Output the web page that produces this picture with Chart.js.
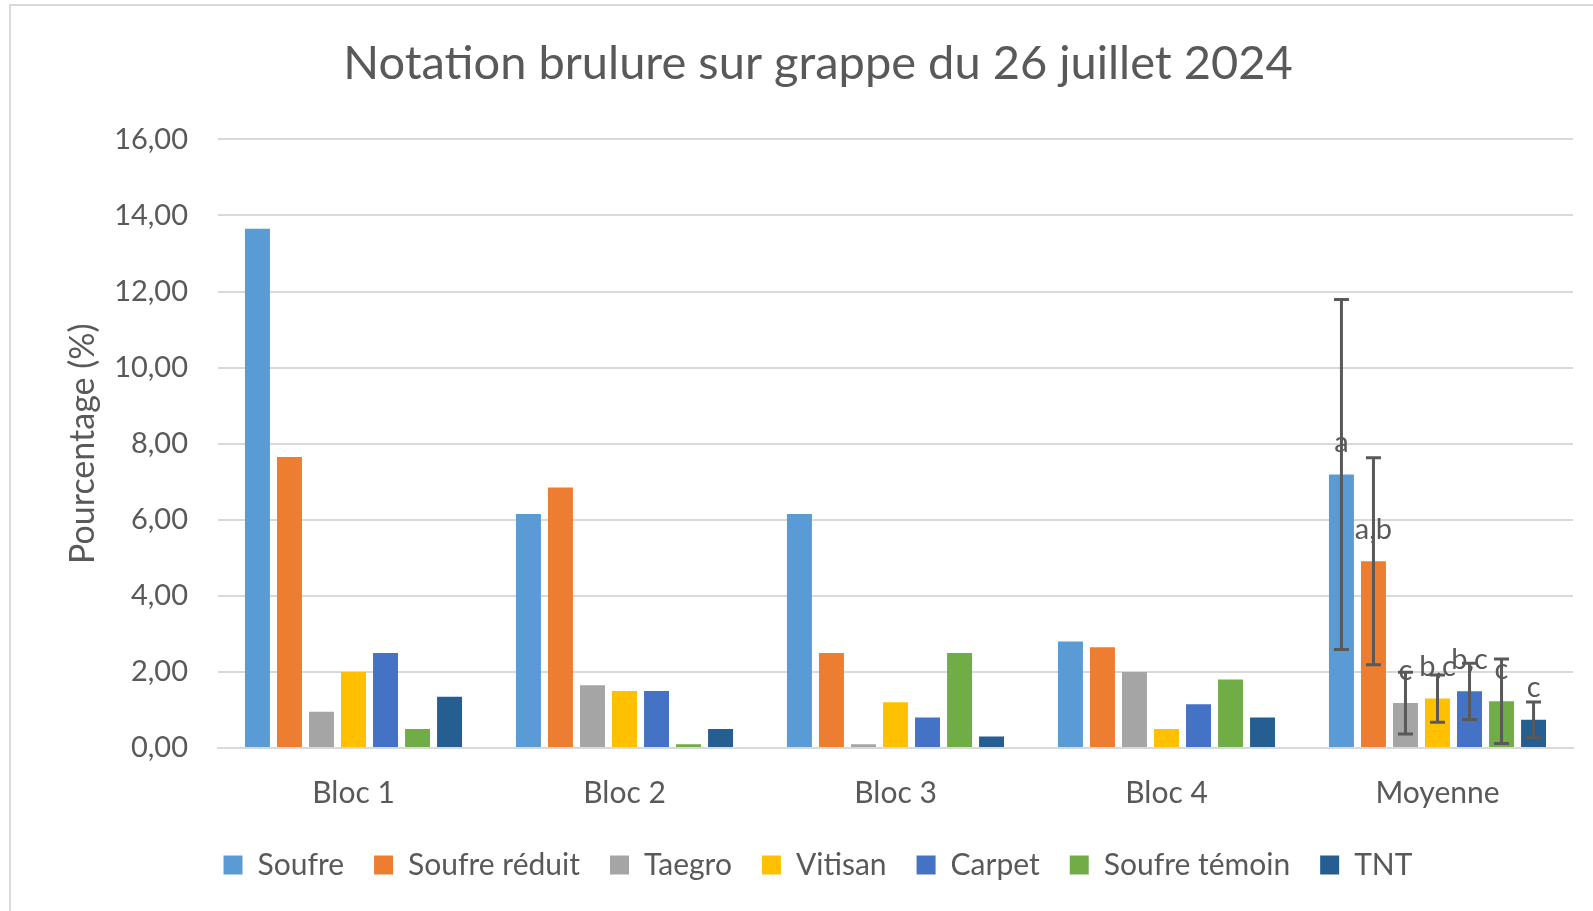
<!DOCTYPE html>
<html>
<head>
<meta charset="utf-8">
<script src="https://cdn.jsdelivr.net/npm/chart.js@4/dist/chart.umd.min.js"></script>
<style>
html,body{margin:0;padding:0;background:#fff;overflow:hidden}
#wrap{position:absolute;left:0;top:0;width:1593px;height:911px}
</style>
</head>
<body>
<div id="wrap"><canvas id="c"></canvas></div>
<script>
// ---- Data ----
const categories = ['Bloc 1', 'Bloc 2', 'Bloc 3', 'Bloc 4', 'Moyenne'];
const seriesNames = ['Soufre', 'Soufre réduit', 'Taegro', 'Vitisan', 'Carpet', 'Soufre témoin', 'TNT'];
const soufre       = [13.65, 6.15, 6.15, 2.80, 7.19];
const soufreReduit = [7.65, 6.85, 2.50, 2.65, 4.91];
const taegro       = [0.95, 1.65, 0.10, 2.00, 1.18];
const vitisan      = [2.00, 1.50, 1.20, 0.50, 1.30];
const carpet       = [2.50, 1.50, 0.80, 1.15, 1.49];
const soufreTemoin = [0.50, 0.10, 2.50, 1.80, 1.23];
const tnt          = [1.35, 0.50, 0.30, 0.80, 0.74];
const moyenneErrors  = [4.60, 2.72, 0.81, 0.62, 0.74, 1.11, 0.47];
const moyenneLetters = ['a', 'a,b', 'c', 'b,c', 'b,c', 'c', 'c'];
const yTickValues = [0, 2, 4, 6, 8, 10, 12, 14, 16];
const seriesColors = ['#5B9BD5', '#ED7D31', '#A5A5A5', '#FFC000', '#4472C4', '#70AD47', '#255E91'];

const allSeries = [soufre, soufreReduit, taegro, vitisan, carpet, soufreTemoin, tnt];
const FONT = 'Lato';
const TXT = '#595959';

const framePlugin = {
  id: 'frame',
  beforeDraw(chart) {
    const ctx = chart.ctx;
    ctx.save();
    ctx.fillStyle = '#ffffff';
    ctx.fillRect(0, 0, chart.width, chart.height);
    ctx.strokeStyle = '#d9d9d9';
    ctx.lineWidth = 2;
    ctx.strokeRect(10, 5, 1700, 1000);
    ctx.restore();
  }
};

const errorPlugin = {
  id: 'errbars',
  afterDatasetsDraw(chart) {
    const ctx = chart.ctx;
    const ys = chart.scales.y;
    const idx = categories.length - 1;
    ctx.save();
    ctx.font = '29px ' + FONT;
    ctx.fillStyle = TXT;
    ctx.textAlign = 'center';
    ctx.textBaseline = 'middle';
    chart.data.datasets.forEach((ds, i) => {
      const bar = chart.getDatasetMeta(i).data[idx];
      ctx.fillText(moyenneLetters[i], bar.x, bar.y - 32);
    });
    ctx.strokeStyle = TXT;
    ctx.lineWidth = 3;
    chart.data.datasets.forEach((ds, i) => {
      const bar = chart.getDatasetMeta(i).data[idx];
      const m = ds.data[idx];
      const e = moyenneErrors[i];
      const yTop = ys.getPixelForValue(m + e);
      const yBot = ys.getPixelForValue(Math.max(0, m - e));
      ctx.beginPath();
      ctx.moveTo(bar.x, yTop); ctx.lineTo(bar.x, yBot);
      ctx.moveTo(bar.x - 7.5, yTop); ctx.lineTo(bar.x + 7.5, yTop);
      ctx.moveTo(bar.x - 7.5, yBot); ctx.lineTo(bar.x + 7.5, yBot);
      ctx.stroke();
    });
    ctx.restore();
  }
};

new Chart(document.getElementById('c'), {
  type: 'bar',
  data: {
    labels: categories,
    datasets: seriesNames.map((name, i) => ({
      label: name,
      data: allSeries[i],
      backgroundColor: seriesColors[i],
      borderWidth: 0,
      barPercentage: 0.78,
      categoryPercentage: 0.827
    }))
  },
  options: {
    responsive: true,
    maintainAspectRatio: false,
    animation: false,
    devicePixelRatio: 1,
    layout: { padding: { left: 63, right: 20, top: 0, bottom: 21 } },
    plugins: {
      title: {
        display: true,
        text: 'Notation brulure sur grappe du 26 juillet 2024',
        color: TXT,
        font: { family: FONT, size: 47, weight: 'normal' },
        padding: { top: 36, bottom: 47 }
      },
      legend: {
        position: 'bottom',
        labels: {
          color: TXT,
          font: { family: FONT, size: 30 },
          boxWidth: 19,
          boxHeight: 19,
          padding: 30
        }
      },
      tooltip: { enabled: false }
    },
    scales: {
      x: {
        grid: { display: false },
        border: { display: true, color: '#d9d9d9', width: 2 },
        ticks: { color: TXT, font: { family: FONT, size: 30 }, padding: 19 },
        afterFit: s => { s.height = 72; }
      },
      y: {
        min: 0,
        max: 16,
        afterBuildTicks: s => { s.ticks = yTickValues.map(v => ({ value: v })); },
        ticks: {
          color: TXT,
          font: { family: FONT, size: 29 },
          padding: 30,
          callback: v => Number(v).toFixed(2).replace('.', ',')
        },
        grid: { color: '#d9d9d9', lineWidth: 2, drawTicks: false },
        border: { display: false },
        title: {
          display: true,
          text: 'Pourcentage (%)',
          color: TXT,
          font: { family: FONT, size: 34, weight: 'normal' },
          padding: { top: 0, bottom: 0 }
        },
        afterFit: s => { s.width = 155; }
      }
    }
  },
  plugins: [framePlugin, errorPlugin]
});
</script>
</body>
</html>
